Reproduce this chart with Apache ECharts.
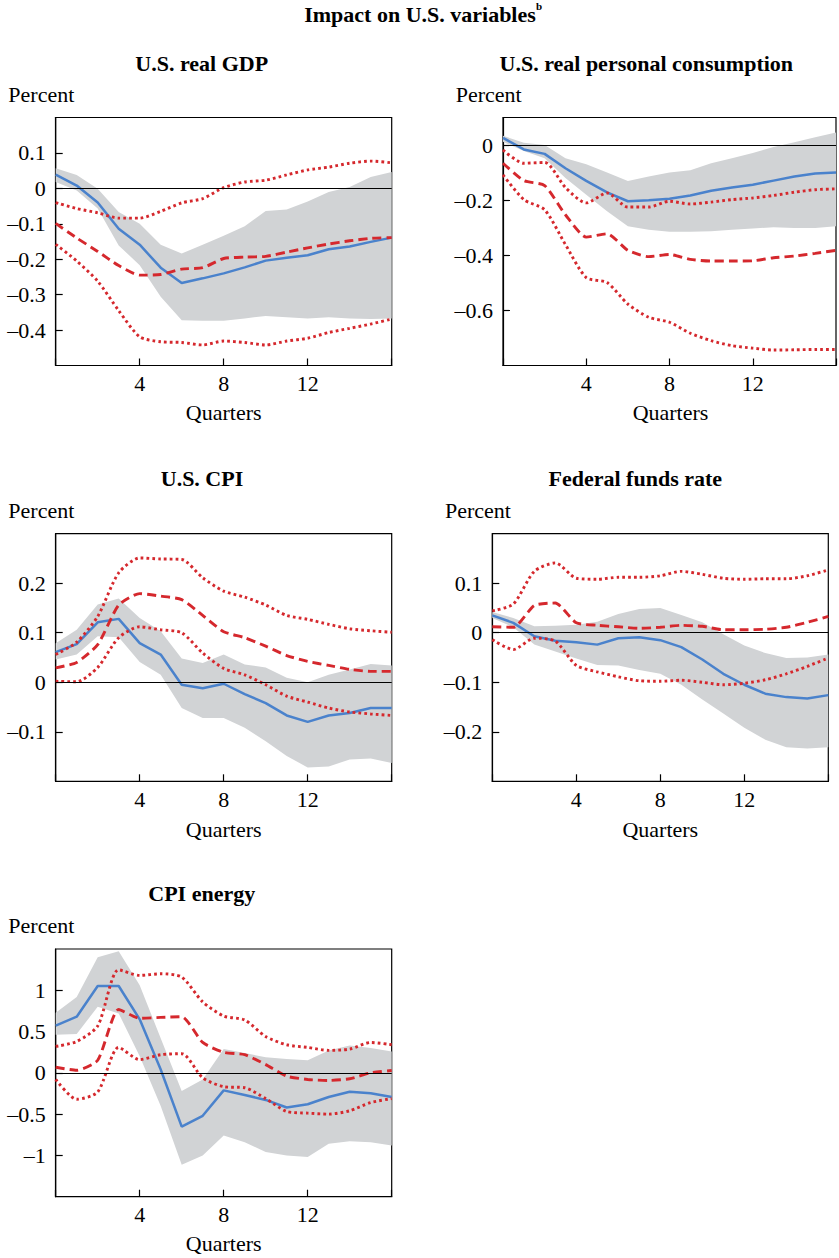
<!DOCTYPE html>
<html>
<head>
<meta charset="utf-8">
<script src="https://cdn.jsdelivr.net/npm/echarts@6/dist/echarts.min.js"></script>
<style>
  html, body { margin: 0; padding: 0; background: #fff; }
  #chart { width: 839px; height: 1258px; }
</style>
</head>
<body>
<div id="chart"></div>
<script>
// ---------- data ----------
const quarters = [0,1,2,3,4,5,6,7,8,9,10,11,12,13,14,15,16];
const xTickLabels = [4, 8, 12];

// U.S. real GDP
const gdpSolid  = [0.039,0.008,-0.040,-0.114,-0.159,-0.224,-0.267,-0.254,-0.240,-0.223,-0.204,-0.196,-0.189,-0.172,-0.164,-0.151,-0.139];
const gdpDashed = [-0.099,-0.140,-0.178,-0.218,-0.245,-0.243,-0.228,-0.224,-0.198,-0.194,-0.192,-0.180,-0.168,-0.157,-0.148,-0.141,-0.139];
const gdpDotHi  = [-0.040,-0.057,-0.069,-0.084,-0.084,-0.065,-0.041,-0.029,0.002,0.018,0.023,0.038,0.052,0.060,0.071,0.077,0.072];
const gdpDotLo  = [-0.158,-0.205,-0.262,-0.345,-0.419,-0.433,-0.435,-0.442,-0.431,-0.435,-0.442,-0.431,-0.423,-0.407,-0.395,-0.383,-0.369];
const gdpBandHi = [0.057,0.038,-0.001,-0.067,-0.100,-0.159,-0.184,-0.159,-0.134,-0.107,-0.064,-0.060,-0.037,-0.010,0.004,0.032,0.046];
const gdpBandLo = [0.018,-0.006,-0.057,-0.161,-0.217,-0.306,-0.372,-0.374,-0.374,-0.367,-0.360,-0.364,-0.367,-0.364,-0.367,-0.369,-0.367];
const gdpYTicks = [-0.4,-0.3,-0.2,-0.1,0,0.1];

// U.S. real personal consumption
const conSolid  = [0.026,-0.016,-0.032,-0.084,-0.130,-0.172,-0.204,-0.200,-0.195,-0.183,-0.166,-0.154,-0.144,-0.129,-0.114,-0.103,-0.100];
const conDashed = [-0.066,-0.129,-0.147,-0.253,-0.334,-0.322,-0.382,-0.405,-0.397,-0.415,-0.421,-0.421,-0.420,-0.409,-0.403,-0.393,-0.382];
const conDotHi  = [-0.018,-0.066,-0.063,-0.154,-0.210,-0.174,-0.225,-0.225,-0.204,-0.214,-0.207,-0.198,-0.192,-0.183,-0.171,-0.162,-0.159];
const conDotLo  = [-0.108,-0.198,-0.235,-0.361,-0.481,-0.499,-0.577,-0.625,-0.643,-0.683,-0.710,-0.728,-0.737,-0.744,-0.743,-0.742,-0.742];
const conBandHi = [0.034,0.008,0.000,-0.048,-0.070,-0.100,-0.130,-0.114,-0.100,-0.091,-0.066,-0.048,-0.029,-0.007,0.010,0.028,0.046];
const conBandLo = [0.012,-0.022,-0.048,-0.120,-0.180,-0.240,-0.295,-0.307,-0.315,-0.315,-0.313,-0.307,-0.303,-0.298,-0.301,-0.301,-0.295];
const conYTicks = [-0.6,-0.4,-0.2,0];

// U.S. CPI
const cpiSolid  = [0.061,0.077,0.121,0.128,0.079,0.056,-0.005,-0.012,-0.003,-0.024,-0.042,-0.067,-0.080,-0.067,-0.062,-0.052,-0.052];
const cpiDashed = [0.029,0.040,0.076,0.156,0.179,0.174,0.167,0.135,0.102,0.090,0.073,0.054,0.042,0.034,0.026,0.022,0.022];
const cpiDotHi  = [0.056,0.081,0.133,0.221,0.251,0.249,0.248,0.211,0.184,0.172,0.156,0.135,0.127,0.117,0.108,0.104,0.101];
const cpiDotLo  = [0.002,0.001,0.030,0.090,0.112,0.106,0.100,0.059,0.028,0.015,-0.005,-0.028,-0.040,-0.052,-0.060,-0.064,-0.067];
const cpiBandHi = [0.079,0.106,0.157,0.169,0.130,0.103,0.048,0.039,0.056,0.036,0.030,0.009,0.000,0.015,0.026,0.037,0.034];
const cpiBandLo = [0.046,0.056,0.093,0.091,0.041,0.015,-0.052,-0.072,-0.072,-0.092,-0.119,-0.149,-0.172,-0.170,-0.156,-0.154,-0.163];
const cpiYTicks = [-0.1,0,0.1,0.2];

// Federal funds rate
const fedSolid  = [0.035,0.020,-0.007,-0.016,-0.019,-0.024,-0.011,-0.009,-0.015,-0.029,-0.054,-0.083,-0.105,-0.123,-0.130,-0.133,-0.126];
const fedDashed = [0.012,0.011,0.055,0.060,0.020,0.015,0.012,0.009,0.011,0.015,0.013,0.006,0.006,0.007,0.011,0.021,0.033];
const fedDotHi  = [0.044,0.058,0.124,0.141,0.110,0.108,0.112,0.112,0.115,0.124,0.118,0.110,0.108,0.109,0.109,0.115,0.127];
const fedDotLo  = [-0.014,-0.034,-0.011,-0.017,-0.066,-0.079,-0.089,-0.097,-0.098,-0.096,-0.100,-0.105,-0.102,-0.095,-0.083,-0.068,-0.051];
const fedBandHi = [0.042,0.030,0.013,0.014,0.016,0.022,0.038,0.048,0.050,0.036,0.021,-0.003,-0.026,-0.041,-0.051,-0.050,-0.044];
const fedBandLo = [0.030,0.011,-0.024,-0.038,-0.052,-0.065,-0.066,-0.075,-0.083,-0.105,-0.135,-0.163,-0.192,-0.216,-0.231,-0.234,-0.231];
const fedYTicks = [-0.2,-0.1,0,0.1];

// CPI energy
const enSolid  = [0.572,0.680,1.052,1.052,0.648,0.040,-0.652,-0.520,-0.212,-0.268,-0.328,-0.420,-0.380,-0.292,-0.228,-0.248,-0.292];
const enDashed = [0.068,0.032,0.152,0.768,0.660,0.672,0.680,0.368,0.248,0.220,0.100,-0.040,-0.080,-0.092,-0.072,0.000,0.028];
const enDotHi  = [0.320,0.380,0.568,1.248,1.180,1.200,1.160,0.860,0.688,0.640,0.440,0.340,0.308,0.272,0.288,0.368,0.340];
const enDotLo  = [-0.080,-0.320,-0.232,0.308,0.160,0.220,0.232,-0.060,-0.168,-0.180,-0.312,-0.468,-0.488,-0.500,-0.460,-0.360,-0.312];
const enBandHi = [0.728,0.920,1.400,1.472,1.060,0.420,-0.220,-0.080,0.288,0.240,0.188,0.168,0.152,0.272,0.332,0.300,0.260];
const enBandLo = [0.460,0.472,0.800,0.720,0.200,-0.400,-1.112,-1.000,-0.760,-0.840,-0.960,-1.000,-1.020,-0.860,-0.828,-0.840,-0.880];
const enYTicks = [-1,-0.5,0,0.5,1];

// ---------- layout / style ----------
const FONT = '"Liberation Serif", "Times New Roman", serif';
const BLUE = '#4a82cc';
const RED = '#d5282d';
const GREY = '#d1d3d5';

const panels = [
  { title: 'U.S. real GDP', solid: gdpSolid, dashed: gdpDashed, dotHi: gdpDotHi, dotLo: gdpDotLo, bandHi: gdpBandHi, bandLo: gdpBandLo, yTicks: gdpYTicks,
    y: { min: -0.5, max: 0.2, interval: 0.1 }, grid: { left: 55.7, top: 117.5, width: 336, height: 248 },
    titleX: 201.7, titleY: 63, pctX: 8.3, pctY: 94.5, qY: 412 },
  { title: 'U.S. real personal consumption', solid: conSolid, dashed: conDashed, dotHi: conDotHi, dotLo: conDotLo, bandHi: conBandHi, bandLo: conBandLo, yTicks: conYTicks,
    y: { min: -0.8, max: 0.1, interval: 0.2 }, grid: { left: 503, top: 117.5, width: 335, height: 248 },
    titleX: 646.3, titleY: 63, pctX: 455.7, pctY: 94.5, qY: 412 },
  { title: 'U.S. CPI', solid: cpiSolid, dashed: cpiDashed, dotHi: cpiDotHi, dotLo: cpiDotLo, bandHi: cpiBandHi, bandLo: cpiBandLo, yTicks: cpiYTicks,
    y: { min: -0.2, max: 0.3, interval: 0.1 }, grid: { left: 55.7, top: 533.7, width: 336, height: 247.6 },
    titleX: 202, titleY: 478, pctX: 8.3, pctY: 510.5, qY: 829 },
  { title: 'Federal funds rate', solid: fedSolid, dashed: fedDashed, dotHi: fedDotHi, dotLo: fedDotLo, bandHi: fedBandHi, bandLo: fedBandLo, yTicks: fedYTicks,
    y: { min: -0.3, max: 0.2, interval: 0.1 }, grid: { left: 492.3, top: 533.7, width: 336, height: 247.6 },
    titleX: 635.3, titleY: 478, pctX: 445, pctY: 510.5, qY: 829 },
  { title: 'CPI energy', solid: enSolid, dashed: enDashed, dotHi: enDotHi, dotLo: enDotLo, bandHi: enBandHi, bandLo: enBandLo, yTicks: enYTicks,
    y: { min: -1.5, max: 1.5, interval: 0.5 }, grid: { left: 55.7, top: 949, width: 336, height: 247.7 },
    titleX: 201.7, titleY: 893, pctX: 8.3, pctY: 925.5, qY: 1243.5 }
];

function fmtNum(v) {
  const r = Math.round(v * 1000) / 1000;
  if (r === 0) return '0';
  return (r < 0 ? '\u2013' : '') + String(Math.abs(r));
}

function textEl(x, y, text, size, bold, align) {
  return {
    type: 'text', x: x, y: y, silent: true,
    style: {
      text: text, fill: '#000',
      font: (bold ? 'bold ' : '') + size + 'px ' + FONT,
      textAlign: align, align: align,
      textVerticalAlign: 'middle', verticalAlign: 'middle'
    }
  };
}

const grids = [], xAxes = [], yAxes = [], series = [];
const graphics = [
  textEl(420, 14, 'Impact on U.S. variables', 22, true, 'center'),
  textEl(536, 6, 'b', 11, true, 'left')
];

panels.forEach((p, k) => {
  grids.push({ left: p.grid.left, top: p.grid.top, width: p.grid.width, height: p.grid.height,
               show: true, borderColor: '#000', borderWidth: 1.2, backgroundColor: 'transparent', containLabel: false });
  xAxes.push({
    gridIndex: k, type: 'value', min: 0, max: 16, interval: 4,
    axisLine: { show: true, onZero: false, lineStyle: { color: '#000', width: 1.2 } },
    axisTick: { show: true, inside: true, length: 7, lineStyle: { color: '#000', width: 1.2 } },
    splitLine: { show: false },
    axisLabel: { margin: 7, fontFamily: FONT, fontSize: 22, color: '#000',
      formatter: v => xTickLabels.indexOf(Math.round(v)) >= 0 ? String(Math.round(v)) : '' }
  });
  yAxes.push({
    gridIndex: k, type: 'value', min: p.y.min, max: p.y.max, interval: p.y.interval,
    axisLine: { show: true, onZero: false, lineStyle: { color: '#000', width: 1.2 } },
    axisTick: { show: true, inside: true, length: 7, lineStyle: { color: '#000', width: 1.2 } },
    splitLine: { show: false },
    axisLabel: { margin: 10, fontFamily: FONT, fontSize: 22, color: '#000', showMinLabel: false, showMaxLabel: false,
      formatter: v => p.yTicks.some(t => Math.abs(t - v) < 1e-6) ? fmtNum(v) : '' }
  });

  const hi = p.bandHi, lo = p.bandLo;
  series.push({
    type: 'custom', xAxisIndex: k, yAxisIndex: k, z: 1, silent: true,
    data: quarters.map((q, i) => [q, lo[i], hi[i]]),
    encode: { x: 0, y: [1, 2] },
    renderItem: (params, api) => {
      if (params.dataIndex !== 0) return null;
      const pts = [];
      for (let i = 0; i < quarters.length; i++) pts.push(api.coord([quarters[i], hi[i]]));
      for (let i = quarters.length - 1; i >= 0; i--) pts.push(api.coord([quarters[i], lo[i]]));
      return { type: 'polygon', shape: { points: pts }, style: { fill: GREY, stroke: null } };
    }
  });
  const lineBase = { type: 'line', xAxisIndex: k, yAxisIndex: k, symbol: 'none', showSymbol: false, silent: true };
  series.push(Object.assign({}, lineBase, { name: 'upper', z: 3, smooth: 0.25,
    data: quarters.map((q, i) => [q, p.dotHi[i]]),
    lineStyle: { color: RED, width: 2.9, type: [2.7, 3.1], cap: 'butt' } }));
  series.push(Object.assign({}, lineBase, { name: 'lower', z: 3, smooth: 0.25,
    data: quarters.map((q, i) => [q, p.dotLo[i]]),
    lineStyle: { color: RED, width: 2.9, type: [2.7, 3.1], cap: 'butt' } }));
  series.push(Object.assign({}, lineBase, { name: 'median', z: 3, smooth: 0.2,
    data: quarters.map((q, i) => [q, p.dashed[i]]),
    lineStyle: { color: RED, width: 2.9, type: [9, 5], cap: 'butt' } }));
  series.push(Object.assign({}, lineBase, { name: 'estimate', z: 2,
    data: quarters.map((q, i) => [q, p.solid[i]]),
    lineStyle: { color: BLUE, width: 2.5 },
    markLine: { silent: true, symbol: 'none', animation: false, label: { show: false },
      lineStyle: { color: '#000', width: 1.1, type: 'solid' }, data: [{ yAxis: 0 }] } }));

  graphics.push(textEl(p.titleX, p.titleY, p.title, 22, true, 'center'));
  graphics.push(textEl(p.pctX, p.pctY, 'Percent', 22, false, 'left'));
  graphics.push(textEl(p.grid.left + p.grid.width / 2, p.qY, 'Quarters', 22, false, 'center'));
});

const chart = echarts.init(document.getElementById('chart'), null, { renderer: 'svg' });
chart.setOption({
  animation: false,
  backgroundColor: '#fff',
  grid: grids, xAxis: xAxes, yAxis: yAxes, series: series,
  graphic: graphics
});
</script>
</body>
</html>
